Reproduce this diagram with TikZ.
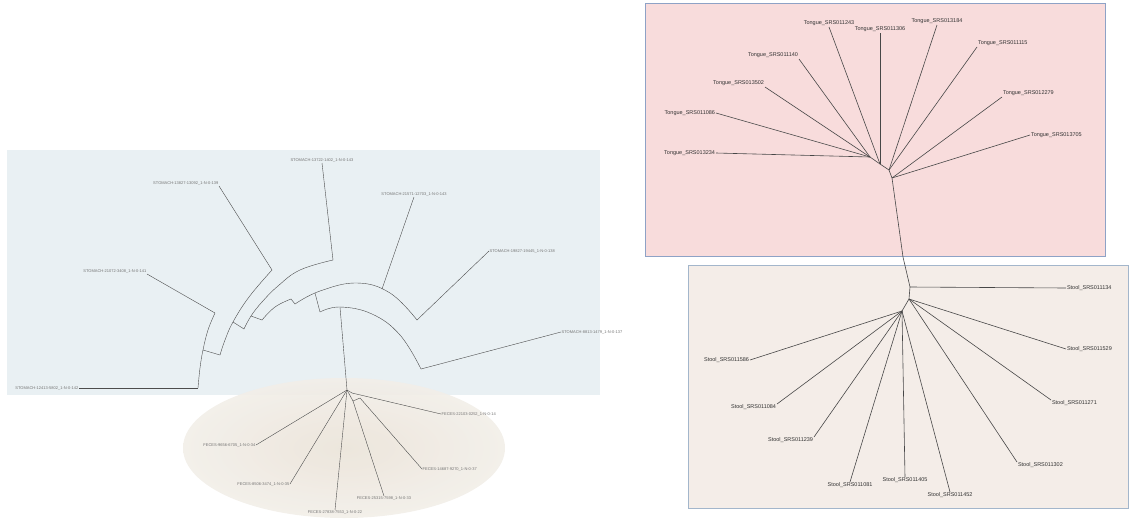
\documentclass[tikz,border=0pt]{standalone}
\usepackage{fontspec}
\setmainfont{Liberation Sans}
\definecolor{stomachbg}{HTML}{E9F0F3}
\definecolor{fecesbg}{HTML}{EAE3D8}
\definecolor{fecesedge}{HTML}{F2EEE8}
\definecolor{tonguebg}{HTML}{F8DCDC}
\definecolor{stoolbg}{HTML}{F4EDE8}
\definecolor{panelborder}{HTML}{8EA2C6}
\definecolor{stoolborder}{HTML}{A3B6CB}
\begin{document}
\begin{tikzpicture}[x=1pt,y=-1pt,
  br/.style={draw=black!70,line width=0.4pt},
  rbr/.style={draw=black!72,line width=0.6pt},
  sl/.style={font=\fontsize{4}{4.5}\selectfont,text=black!55,inner sep=0.5pt},
  rl/.style={font=\fontsize{5.5}{6}\selectfont,text=black!80,inner sep=0.8pt}]
\useasboundingbox (0,0) rectangle (1144,520);

% ---------- backgrounds ----------
\fill[stomachbg] (7,150) rectangle (600,395);
\shade[inner color=fecesbg,outer color=fecesedge,fill opacity=0.9] (344,448) ellipse [x radius=161, y radius=70];
\draw[panelborder,fill=tonguebg,line width=1pt] (645,3) rectangle (1105,256);
\draw[stoolborder,fill=stoolbg,line width=1pt] (688,265) rectangle (1128,508);

% ---------- left tree: stomach labels ----------
\node[sl,anchor=east] (L1) at (79,388) {STOMACH-12413-5802\_1-N-0-142};
\node[sl,anchor=south east] (L2) at (147,274) {STOMACH-21072-3408\_1-N-0-141};
\node[sl,anchor=south east] (L3) at (219,186) {STOMACH-13827-13092\_1-N-0-139};
\node[sl,anchor=south] (L4) at (322,163) {STOMACH-13722-1402\_1-N-0-143};
\node[sl,anchor=south] (L5) at (414,197) {STOMACH-21571-12703\_1-N-0-143};
\node[sl,anchor=west] (L6) at (489,251) {STOMACH-19827-19445\_1-N-0-138};
\node[sl,anchor=west] (L7) at (561,332) {STOMACH-8813-1479\_1-N-0-137};

% internal points of the circular tree
\coordinate (c1) at (198,388);
\coordinate (c2) at (203,350);
\coordinate (c3) at (215,313);
\coordinate (d1) at (220,355);
\coordinate (d2) at (233,322);
\coordinate (d3) at (272,270);
\coordinate (e1) at (244,329);
\coordinate (e2) at (251,316);
\coordinate (e3) at (333,260);
\coordinate (g1) at (262,320);
\coordinate (g2) at (291,299);
\coordinate (a1) at (295,304);
\coordinate (a2) at (315,293);
\coordinate (a3) at (382,289);
\coordinate (a4) at (417,320);
\coordinate (b1) at (320,312);
\coordinate (b2) at (340,307);
\coordinate (b3) at (421,369);

% arcs
\draw[br] plot[smooth,tension=0.7] coordinates {(198,388) (200,368) (203,350) (208,330) (215,313)};
\draw[br] plot[smooth,tension=0.7] coordinates {(220,355) (225,340) (233,322) (249,297) (272,270)};
\draw[br] plot[smooth,tension=0.7] coordinates {(244,329) (251,316) (262,302) (278,286) (300,270) (333,260)};
\draw[br] plot[smooth,tension=0.7] coordinates {(262,320) (275,307) (291,299)};
\draw[br] plot[smooth,tension=0.7] coordinates {(295,304) (320,291) (357,283) (390,293) (417,320)};
\draw[br] plot[smooth,tension=0.7] coordinates {(320,312) (340,307) (372,314) (400,335) (421,369)};
% radial links
\draw[br] (c2) -- (d1);
\draw[br] (d2) -- (e1);
\draw[br] (e2) -- (g1);
\draw[br] (g2) -- (a1);
\draw[br] (a2) -- (b1);
% leaves
\draw[br] (L1.east) -- (c1);
\draw[br] (L2.south east) -- (c3);
\draw[br] (L3.south east) -- (d3);
\draw[br] (L4.south) -- (e3);
\draw[br] (L5.south) -- (a3);
\draw[br] (L6.west) -- (a4);
\draw[br] (L7.west) -- (b3);

% ---------- feces cluster ----------
\coordinate (f0) at (347,390);
\coordinate (f1) at (352,393);
\coordinate (fa) at (353,401);
\coordinate (fb) at (360,398);
\draw[br] (b2) -- (f0);
\node[sl,anchor=west] (F1) at (441,414) {FECES-22103-0252\_1-N-0-14};
\node[sl,anchor=east] (F2) at (256,445) {FECES-9656-6705\_1-N-0-34};
\node[sl,anchor=east] (F3) at (290,484) {FECES-8506-3474\_1-N-0-35};
\node[sl,anchor=north] (F4) at (335,510) {FECES-27838-7553\_1-N-0-22};
\node[sl,anchor=north] (F5) at (384,496) {FECES-25315-7598\_1-N-0-33};
\node[sl,anchor=west] (F6) at (422,469) {FECES-14687-9270\_1-N-0-37};
\draw[br] (f0) -- (f1);
\draw[br] (f1) -- (F1.west);
\draw[br] (f0) -- (F2.east);
\draw[br] (f0) -- (F3.east);
\draw[br] (f0) -- (F4.north);
\draw[br] (f0) -- (fa) -- (fb);
\draw[br] (fa) -- (F5.north);
\draw[br] (fb) -- (F6.west);

% ---------- tongue tree ----------
\coordinate (t1) at (870,157);
\coordinate (t2) at (880,164);
\coordinate (t3) at (889,170);
\coordinate (t4) at (892,178);
\coordinate (m) at (903,257);
\coordinate (s1) at (910,287);
\coordinate (s2) at (909,299);
\coordinate (s3) at (902,311);

\node[rl,anchor=east] (T1) at (716,153) {Tongue\_SRS013234};
\node[rl,anchor=east] (T2) at (716,113) {Tongue\_SRS011086};
\node[rl,anchor=south east] (T3) at (765,87) {Tongue\_SRS013502};
\node[rl,anchor=south east] (T4) at (799,59) {Tongue\_SRS011140};
\node[rl,anchor=south] (T5) at (829,27) {Tongue\_SRS011243};
\node[rl,anchor=south] (T6) at (880,33) {Tongue\_SRS011306};
\node[rl,anchor=south] (T7) at (937,25) {Tongue\_SRS013184};
\node[rl,anchor=south west] (T8) at (977,47) {Tongue\_SRS011115};
\node[rl,anchor=south west] (T9) at (1002,97) {Tongue\_SRS012279};
\node[rl,anchor=west] (T10) at (1030,135) {Tongue\_SRS013705};

\draw[rbr] (T1.east) -- (t1);
\draw[rbr] (T2.east) -- (t1);
\draw[rbr] (T3.south east) -- (t1);
\draw[rbr] (T4.south east) -- (t1);
\draw[rbr] (T5.south) -- (t2);
\draw[rbr] (T6.south) -- (t2);
\draw[rbr] (T7.south) -- (t3);
\draw[rbr] (T8.south west) -- (t3);
\draw[rbr] (T9.south west) -- (t4);
\draw[rbr] (T10.west) -- (t4);
\draw[rbr] (t1) -- (t2) -- (t3) -- (t4) -- (m) -- (s1) -- (s2) -- (s3);

% ---------- stool tree ----------
\node[rl,anchor=west] (S1) at (1066,288) {Stool\_SRS011134};
\node[rl,anchor=west] (S2) at (1066,349) {Stool\_SRS011529};
\node[rl,anchor=north west] (S3) at (1051,400) {Stool\_SRS011271};
\node[rl,anchor=north west] (S4) at (1017,462) {Stool\_SRS011302};
\node[rl,anchor=north] (S5) at (950,492) {Stool\_SRS011452};
\node[rl,anchor=north] (S6) at (905,477) {Stool\_SRS011405};
\node[rl,anchor=north] (S7) at (850,482) {Stool\_SRS011081};
\node[rl,anchor=north east] (S8) at (814,437) {Stool\_SRS011239};
\node[rl,anchor=north east] (S9) at (777,404) {Stool\_SRS011084};
\node[rl,anchor=east] (S10) at (750,360) {Stool\_SRS011586};

\draw[rbr] (s1) -- (S1.west);
\draw[rbr] (s2) -- (S2.west);
\draw[rbr] (s2) -- (S3.north west);
\draw[rbr] (s2) -- (S4.north west);
\draw[rbr] (s3) -- (S5.north);
\draw[rbr] (s3) -- (S6.north);
\draw[rbr] (s3) -- (S7.north);
\draw[rbr] (s3) -- (S8.north east);
\draw[rbr] (s3) -- (S9.north east);
\draw[rbr] (s3) -- (S10.east);
\end{tikzpicture}
\end{document}
